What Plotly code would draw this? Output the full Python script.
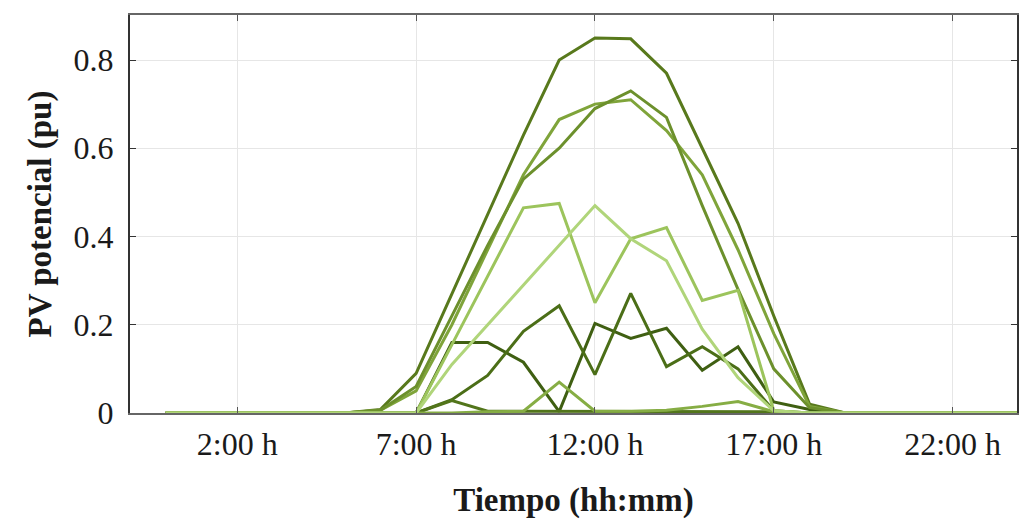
import plotly.graph_objects as go

# Hour of day for every sample (0:00 .. 24:00)
hours = list(range(0, 25))

# Tick positions and labels on the time axis
tick_hours = [2, 7, 12, 17, 22]
tick_labels = ["2:00 h", "7:00 h", "12:00 h", "17:00 h", "22:00 h"]

# PV potential profiles (pu), one value per hour
pv_a = [0, 0, 0, 0, 0, 0, 0.008, 0.09, 0.27, 0.45, 0.63, 0.80, 0.85, 0.848, 0.77, 0.60, 0.43, 0.22, 0.02, 0, 0, 0, 0, 0, 0]
pv_b = [0, 0, 0, 0, 0, 0, 0.006, 0.05, 0.20, 0.37, 0.54, 0.665, 0.70, 0.71, 0.64, 0.54, 0.37, 0.18, 0.015, 0, 0, 0, 0, 0, 0]
pv_c = [0, 0, 0, 0, 0, 0, 0.006, 0.06, 0.22, 0.38, 0.53, 0.60, 0.69, 0.73, 0.67, 0.47, 0.28, 0.10, 0.012, 0, 0, 0, 0, 0, 0]
pv_d = [0, 0, 0, 0, 0, 0, 0, 0.0, 0.155, 0.31, 0.465, 0.475, 0.25, 0.395, 0.42, 0.255, 0.278, 0.005, 0, 0, 0, 0, 0, 0, 0]
pv_e = [0, 0, 0, 0, 0, 0, 0, 0.0, 0.11, 0.20, 0.29, 0.38, 0.47, 0.395, 0.345, 0.19, 0.08, 0.005, 0, 0, 0, 0, 0, 0, 0]
pv_f = [0, 0, 0, 0, 0, 0, 0, 0.0, 0.16, 0.16, 0.115, 0.003, 0.203, 0.169, 0.192, 0.097, 0.15, 0.025, 0.008, 0, 0, 0, 0, 0, 0]
pv_g = [0, 0, 0, 0, 0, 0, 0, 0.0, 0.03, 0.085, 0.185, 0.243, 0.087, 0.271, 0.105, 0.15, 0.10, 0.005, 0, 0, 0, 0, 0, 0, 0]
pv_h = [0, 0, 0, 0, 0, 0, 0, 0.0, 0.028, 0.004, 0.004, 0.004, 0.004, 0.004, 0.004, 0.004, 0.004, 0.003, 0, 0, 0, 0, 0, 0, 0]
pv_i = [0, 0, 0, 0, 0, 0, 0, 0, 0, 0.003, 0.004, 0.07, 0.004, 0.004, 0.006, 0.015, 0.026, 0.003, 0, 0, 0, 0, 0, 0, 0]

profiles = [
    (pv_a, "#58791c"),
    (pv_f, "#3f5f12"),
    (pv_g, "#4b6e17"),
    (pv_h, "#52751b"),
    (pv_b, "#7fa43a"),
    (pv_c, "#6c902c"),
    (pv_i, "#86ad44"),
    (pv_d, "#9cc45c"),
    (pv_e, "#b0d57a"),
]

fig = go.Figure()
for values, color in profiles:
    fig.add_trace(go.Scatter(
        x=hours, y=values, mode="lines",
        line=dict(color=color, width=3),
        showlegend=False, hoverinfo="skip",
    ))

serif = "Liberation Serif, Times New Roman, serif"

fig.update_layout(
    width=1020, height=522,
    margin=dict(l=130, r=1, t=15, b=109),
    paper_bgcolor="white", plot_bgcolor="white",
    font=dict(family=serif, color="#1a1a1a"),
)
fig.update_xaxes(
    range=[-1, 23.8],
    tickmode="array", tickvals=tick_hours, ticktext=tick_labels,
    tickfont=dict(size=32, family=serif, color="#1a1a1a"),
    ticks="inside", ticklen=6, tickcolor="#555",
    showgrid=True, gridcolor="#e6e6e6", gridwidth=1,
    showline=True, linecolor="#666", linewidth=2, mirror="ticks",
    zeroline=False, ticklabelstandoff=2,
    title=dict(text="<b>Tiempo (hh:mm)</b>", font=dict(size=33, family=serif, color="#1a1a1a"), standoff=26),
)
fig.update_yaxes(
    range=[0, 0.902],
    tickmode="array", tickvals=[0, 0.2, 0.4, 0.6, 0.8], ticktext=["0", "0.2", "0.4", "0.6", "0.8"],
    tickfont=dict(size=32, family=serif, color="#1a1a1a"),
    ticks="inside", ticklen=6, tickcolor="#333",
    showgrid=True, gridcolor="#e6e6e6", gridwidth=1,
    showline=True, linecolor="#333", linewidth=2, mirror="ticks",
    zeroline=False, ticklabelstandoff=8,
    title=dict(text="<b>PV potencial (pu)</b>", font=dict(size=33, family=serif, color="#1a1a1a"), standoff=12),
)

fig.write_html("out.html")
